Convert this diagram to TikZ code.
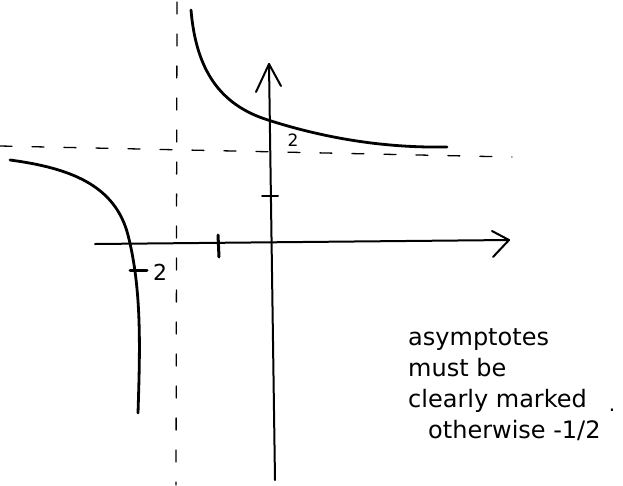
\documentclass[tikz,border=0pt]{standalone}
\usepackage{fontspec}
\newfontfamily\hand{DejaVu Sans}
\begin{document}
\begin{tikzpicture}[x=1pt,y=-1pt,line cap=round,line join=round,
  curvestyle/.style={line width=2.8pt},
  axisstyle/.style={line width=2pt},
  asym/.style={line width=1.3pt,dash pattern=on 12pt off 20pt},
  tickstyle/.style={line width=3pt},
  note/.style={font=\hand\fontsize{24}{31}\selectfont,align=left,anchor=north west,inner sep=0pt}]
\useasboundingbox (0,0) rectangle (623,485);
% asymptotes
\coordinate (ha) at (0,146);
\coordinate (hb) at (512,157);
\coordinate (va) at (177,2);
\coordinate (vb) at (176,485);
\draw[asym] (ha) -- (hb);
\draw[asym] (va) -- (vb);
% axes
\coordinate (xs) at (95,244);
\coordinate (xe) at (509,240);
\coordinate (ys) at (275,480);
\coordinate (ye) at (269,64);
\draw[axisstyle] (xs) -- (xe);
\draw[axisstyle] (492,231) -- (xe) -- (493,257);
\draw[axisstyle] (ys) -- (ye);
\draw[axisstyle] (256,92) -- (ye) -- (281,86);
% ticks
\draw[tickstyle] (218,235) -- (219,257);
\draw[axisstyle] (262,196) -- (278,196);
% branches
\draw[curvestyle] (191,10) .. controls (196,70) and (220,105) .. (268,120)
  .. controls (330,140) and (390,148) .. (447,147);
\draw[curvestyle] (10,160) .. controls (70,168) and (115,185) .. (128,235)
  .. controls (142,290) and (140,350) .. (138,413);
\draw[tickstyle] (130,270) -- (147,270);
% labels
\node[font=\hand\fontsize{22}{22}\selectfont,inner sep=0pt] (l1) at (160,272) {2};
\node[font=\hand\fontsize{17}{17}\selectfont,inner sep=0pt] (l2) at (293,140) {2};
\node[note] (txt) at (408,328) {asymptotes\\must be\\clearly marked\\\hspace*{20pt}otherwise -1/2};
\node[inner sep=0pt,font=\hand\fontsize{20}{20}\selectfont] (dot) at (612,410) {.};
\end{tikzpicture}
\end{document}
